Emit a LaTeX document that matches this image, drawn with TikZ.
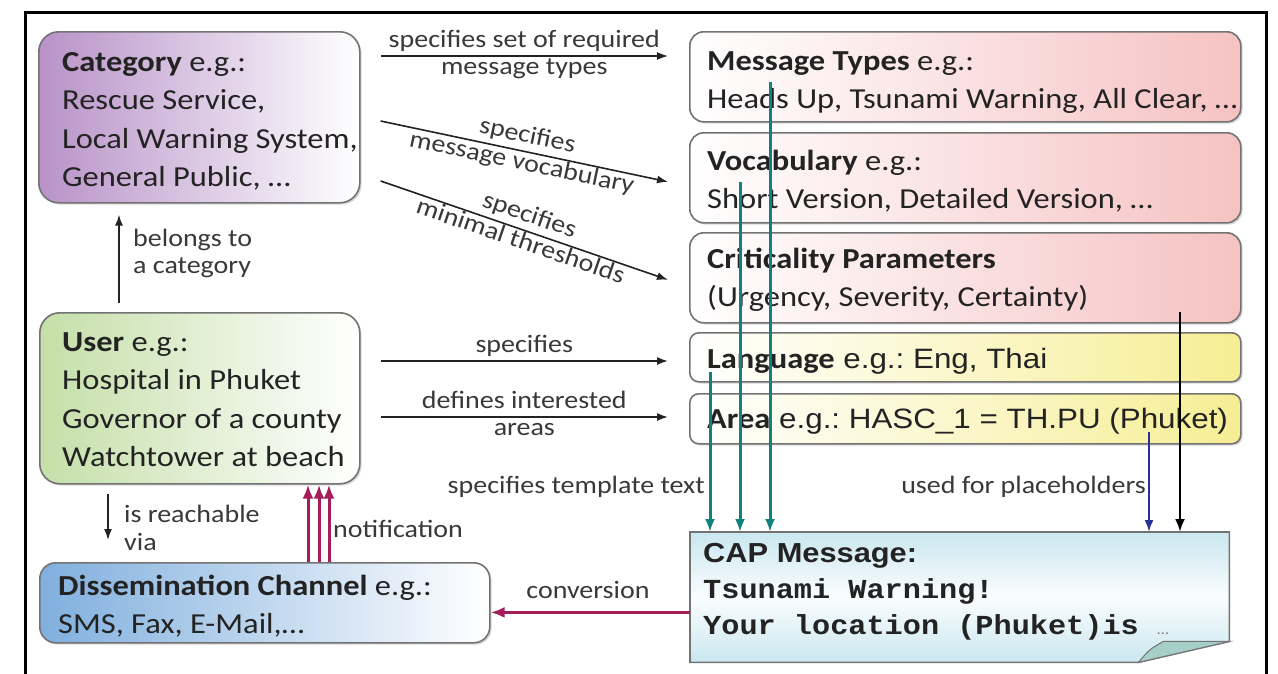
\documentclass[tikz,border=0pt]{standalone}
\usepackage{fontspec}
\setmainfont{Carlito}[FakeStretch=1.12]
\newfontfamily\arialfont{Liberation Sans}[FakeStretch=1.12]
\newfontfamily\couriermono{Liberation Mono}[FakeStretch=1.1]
\usetikzlibrary{arrows.meta,calc,shadows}

\definecolor{ink}{RGB}{35,35,35}
\definecolor{boxedge}{RGB}{115,115,115}
\definecolor{catc}{RGB}{184,146,200}
\definecolor{userc}{RGB}{196,223,168}
\definecolor{dissc}{RGB}{128,175,222}
\definecolor{pinkc}{RGB}{246,194,194}
\definecolor{yelc}{RGB}{246,238,148}
\definecolor{capc}{RGB}{202,231,240}
\definecolor{capmid}{RGB}{250,253,254}
\definecolor{foldc}{RGB}{165,207,200}
\definecolor{tealc}{RGB}{15,130,125}
\definecolor{maroonc}{RGB}{165,30,90}
\definecolor{bluec}{RGB}{40,50,150}

\newcommand\boxfont{\fontsize{29}{38.5}\selectfont}
\newcommand\lblfont{\fontsize{25}{27.5}\selectfont}

\begin{document}
\begin{tikzpicture}[x=1pt,y=-1pt,
  box/.style={draw=boxedge, line width=1.6pt, anchor=north west, inner sep=0pt,
    drop shadow={shadow xshift=1.8pt, shadow yshift=-1.8pt, fill=black!30, opacity=.5}},
  tx/.style={inner sep=0pt, align=left, text=ink, font=\boxfont, anchor=north west},
  lbl/.style={font=\lblfont, text=ink!90, inner sep=1pt, text height=17pt, text depth=7pt},
  lbltx/.style={font=\lblfont, text=ink!90, inner sep=0pt, align=left, anchor=north west},
  arr/.style={draw=ink, line width=1.6pt, -{Latex[length=11pt,width=8pt]}},
  tealarr/.style={draw=tealc, line width=3pt, -{Latex[length=13pt,width=10pt]}},
  maroonarr/.style={draw=maroonc, line width=3pt, -{Latex[length=14pt,width=11pt]}},
  bluearr/.style={draw=bluec, line width=2.2pt, -{Latex[length=12pt,width=9pt]}},
  blackarr/.style={draw=black, line width=2.6pt, -{Latex[length=13pt,width=10pt]}}]

\useasboundingbox (0,0) rectangle (1278,673);
\fill[white] (0,0) rectangle (1278,673);
\begin{scope}
  \clip (0,0) rectangle (1278,673);
  \draw[line width=3pt] (25,12) rectangle (1266,700);
\end{scope}

% left column
\node[box, rounded corners=20pt, left color=catc, right color=white,
  minimum width=321pt, minimum height=171pt] (cat) at (38,31) {};
\node[tx] (catt) at (62,44) {\strut\textbf{Category} e.g.:\\Rescue Service,\\Local Warning System,\\General Public, …};

\node[box, rounded corners=20pt, left color=userc, right color=white,
  minimum width=320pt, minimum height=171pt] (usr) at (39,312) {};
\node[tx] (usrt) at (62,324) {\strut\textbf{User} e.g.:\\Hospital in Phuket\\Governor of a county\\Watchtower at beach};

\node[box, rounded corners=16pt, left color=dissc, right color=white,
  minimum width=450pt, minimum height=80pt] (diss) at (39,562) {};
\node[tx] (disst) at (58,568) {\strut\textbf{Dissemination Channel} e.g.:\\SMS, Fax, E-Mail,…};

% right column
\node[box, rounded corners=14pt, left color=white, right color=pinkc,
  minimum width=551pt, minimum height=90pt] (mt) at (689,31) {};
\node[tx] (mtt) at (707,43) {\strut\textbf{Message Types} e.g.:\\Heads Up, Tsunami Warning, All Clear, …};

\node[box, rounded corners=14pt, left color=white, right color=pinkc,
  minimum width=551pt, minimum height=90pt] (voc) at (689,132) {};
\node[tx] (voct) at (707,143) {\strut\textbf{Vocabulary} e.g.:\\Short Version, Detailed Version, …};

\node[box, rounded corners=14pt, left color=white, right color=pinkc,
  minimum width=551pt, minimum height=90pt] (crit) at (689,232) {};
\node[tx] (critt) at (707,241) {\strut\textbf{Criticality Parameters}\\(Urgency, Severity, Certainty)};

\node[box, rounded corners=9pt, left color=white, right color=yelc,
  minimum width=551pt, minimum height=49pt] (lang) at (689,332) {};
\node[tx, anchor=base west] (langt) at (707,368) {\textbf{Language}{\arialfont\fontsize{28}{30}\selectfont\ e.g.:\ Eng, Thai}};

\node[box, rounded corners=9pt, left color=white, right color=yelc,
  minimum width=551pt, minimum height=50pt] (area) at (689,393) {};
\node[tx, anchor=base west] (areat) at (707,428) {\textbf{Area}{\arialfont\fontsize{28}{30}\selectfont\ e.g.:\ HASC\_1 = TH.PU (Phuket)}};

% CAP message sheet with folded corner
\node[inner sep=0pt, minimum width=539pt, minimum height=130pt, anchor=north west] (cap) at (690,532) {};
\shade[top color=capc, bottom color=capc, middle color=capmid, draw=boxedge, line width=1.6pt]
  (cap.north west) -- (cap.north east) -- ($(cap.south east)+(0,-21)$)
  -- ($(cap.south east)+(-91,0)$) -- (cap.south west) -- cycle;
\filldraw[fill=foldc, draw=boxedge, line width=1pt]
  ($(cap.south east)+(-91,0)$) .. controls ($(cap.south east)+(-80,-13)$) .. ($(cap.south east)+(-66,-21)$)
  -- ($(cap.south east)+(0,-21)$) -- cycle;
\node[anchor=base west, inner sep=0pt, text=ink, font=\arialfont\bfseries\fontsize{27.5}{30}\selectfont] (capt1) at (703,562) {CAP Message:};
\node[anchor=base west, inner sep=0pt, text=ink, font=\couriermono\bfseries\fontsize{27.5}{30}\selectfont] (capt2) at (703,598) {Tsunami Warning!};
\node[anchor=base west, inner sep=0pt, text=ink, font=\couriermono\bfseries\fontsize{27.5}{30}\selectfont] (capt3) at (703,634) {Your location (Phuket)is {\rmfamily\mdseries\fontsize{15}{15}\selectfont\color{gray}…}};

% Category relations
\draw[arr] ($(cat.north east)+(20,25)$) --
  node[lbl, above] (l1a) {specifies set of required}
  node[lbl, below] (l1b) {message types}
  ($(mt.north west)+(-21,25)$);
\draw[arr] ($(cat.north east)+(20,90)$) --
  node[lbl, sloped, above] (l2a) {specifies}
  node[lbl, sloped, below] (l2b) {message vocabulary}
  ($(voc.west)+(-21,4)$);
\draw[arr] ($(cat.north east)+(20,150)$) --
  node[lbl, sloped, above] (l3a) {specifies}
  node[lbl, sloped, below] (l3b) {minimal thresholds}
  ($(crit.west)+(-21,2)$);

% User relations
\coordinate (bsrc) at ($(usr.north west)+(80,-9)$);
\draw[arr, shorten >=11pt] (bsrc) -- (bsrc |- cat.south);
\node[lbltx] (belongs) at (133,226.75) {\strut belongs to\\a category};

\coordinate (s5) at ($(usr.north east)+(20,49)$);
\draw[arr] (s5) -- node[lbl, above] (l5) {specifies} ($(s5 -| lang.west)+(-21,0)$);
\coordinate (s6) at ($(usr.north east)+(20,105)$);
\draw[arr] (s6) --
  node[lbl, above] (l6a) {defines interested}
  node[lbl, below] (l6b) {areas}
  ($(s6 -| area.west)+(-21,0)$);

\coordinate (s7) at ($(usr.south west)+(69,9)$);
\draw[arr] (s7) -- ($(s7 |- diss.north)+(0,-22)$);
\node[lbltx] (reach) at (124,503.45) {\strut is reachable\\via};

% notifications back to the user
\foreach \d [count=\i] in {269,280,290} {
  \coordinate (nb\i) at ($(diss.north west)+(\d,0)$);
  \draw[maroonarr] (nb\i) -- (nb\i |- usr.south);
}
\node[lbl, anchor=base west, inner sep=0pt] (notif) at (333,537) {notification};

% conversion of the CAP message
\coordinate (cv) at ($(cap.south west)+(0,-50)$);
\draw[maroonarr] (cv) -- (cv -| diss.east);
\node[lbl, anchor=base, inner sep=0pt] (conv) at (588,598) {conversion};

% template text and placeholders
\coordinate (t1) at ($(mt.north west)+(81,51)$);
\coordinate (t2) at ($(voc.north west)+(51,50)$);
\coordinate (t3) at ($(lang.north west)+(21,40)$);
\draw[tealarr] (t1) -- (t1 |- cap.north);
\draw[tealarr] (t2) -- (t2 |- cap.north);
\draw[tealarr] (t3) -- (t3 |- cap.north);
\node[lbl, anchor=base east, inner sep=0pt] (tmpl) at (705,493) {specifies template text};

\coordinate (pl) at ($(area.north west)+(460,39)$);
\draw[bluearr] (pl) -- (pl |- cap.north);
\coordinate (cr) at ($(crit.north west)+(491,80)$);
\draw[blackarr] (cr) -- (cr |- cap.north);
\node[lbl, anchor=base east, inner sep=0pt] (plh) at (1146,493) {used for placeholders};

\end{tikzpicture}
\end{document}
